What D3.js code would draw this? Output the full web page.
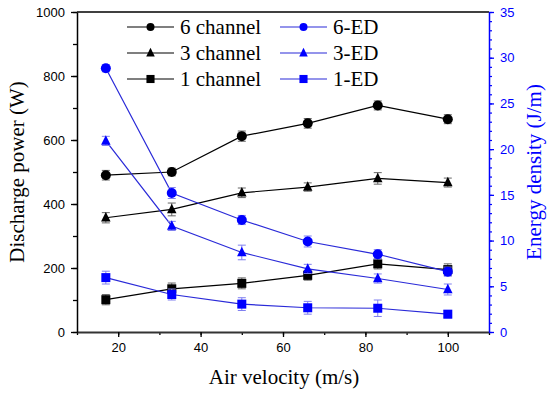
<!DOCTYPE html>
<html>
<head>
<meta charset="utf-8">
<script src="https://cdn.jsdelivr.net/npm/d3@7"></script>
<style>
  body { margin: 0; background: #fff; }
  svg { display: block; }
  .tick text { font-family: "Liberation Sans", Arial, sans-serif; font-size: 13px; }
  .serif { font-family: "Liberation Serif", "Times New Roman", Times, serif; font-size: 21px; }
</style>
</head>
<body>
<svg id="chart" width="550" height="394"></svg>
<script>
// air velocity (m/s)
var velocity = [17, 33, 50, 66, 83, 100];

// discharge power (W), left axis
var power6 = [490, 500, 612, 652, 708, 665];
var power3 = [357, 383, 435, 453, 480, 467];
var power1 = [101, 135, 152, 177, 213, 195];
var power6Err = [15, 12, 16, 15, 14, 14];
var power3Err = [16, 20, 15, 13, 18, 14];
var power1Err = [16, 18, 17, 15, 16, 18];

// energy density (J/m), right axis
var ed6 = [28.85, 15.2, 12.25, 9.9, 8.5, 6.6];
var ed3 = [20.9, 11.6, 8.7, 6.9, 5.85, 4.65];
var ed1 = [5.95, 4.1, 3.05, 2.65, 2.6, 1.95];
var ed6Err = [0.4, 0.6, 0.5, 0.6, 0.5, 0.5];
var ed3Err = [0.5, 0.5, 0.8, 0.5, 0.5, 0.6];
var ed1Err = [0.7, 0.6, 0.7, 0.7, 0.9, 0.4];

var xTicks = [20, 40, 60, 80, 100];
var leftTicks = [0, 200, 400, 600, 800, 1000];
var rightTicks = [0, 5, 10, 15, 20, 25, 30, 35];

var BLUE = '#0000ff';
var BLUE_LINE = '#2a2ad8';
var BLUE_ERR = '#8080f0';
var BLACK_ERR = '#666';

var margin = { left: 77, right: 61, top: 12, bottom: 62 };
var W = 550, H = 394;

var svg = d3.select('#chart');

var x = d3.scaleLinear().domain([10, 110]).range([margin.left, W - margin.right]);
var yL = d3.scaleLinear().domain([0, 1000]).range([H - margin.bottom, margin.top]);
var yR = d3.scaleLinear().domain([0, 35]).range([H - margin.bottom, margin.top]);

var bottom = H - margin.bottom;
var fmt = d3.format('d');

// minor ticks first, then major axes on top
svg.append('g')
    .attr('transform', 'translate(0,' + bottom + ')')
    .call(d3.axisBottom(x).tickValues(d3.range(10, 111, 10)).tickSize(3).tickFormat(''))
    .call(function(g) { g.select('.domain').remove(); })
    .selectAll('line').attr('stroke-width', 1.3);

svg.append('g')
    .attr('transform', 'translate(' + margin.left + ',0)')
    .call(d3.axisLeft(yL).tickValues(d3.range(0, 1001, 100)).tickSize(4).tickFormat(''))
    .call(function(g) { g.select('.domain').remove(); })
    .selectAll('line').attr('stroke-width', 1.3);

svg.append('g')
    .attr('transform', 'translate(' + (W - margin.right) + ',0)')
    .call(d3.axisRight(yR).tickValues(d3.range(0, 36, 1)).tickSize(3).tickFormat(''))
    .call(function(g) { g.select('.domain').remove(); })
    .selectAll('line').attr('stroke', BLUE).attr('stroke-width', 1.2);

// top frame line
svg.append('line')
    .attr('x1', margin.left).attr('x2', W - margin.right)
    .attr('y1', margin.top).attr('y2', margin.top)
    .attr('stroke', '#000').attr('stroke-width', 1.5);

var gx = svg.append('g')
    .attr('transform', 'translate(0,' + bottom + ')')
    .call(d3.axisBottom(x).tickValues(xTicks).tickFormat(fmt).tickSize(5).tickSizeOuter(0).tickPadding(6));
gx.select('.domain').attr('stroke-width', 1.8).attr('stroke', '#333');
gx.selectAll('line').attr('stroke-width', 1.3);

var gl = svg.append('g')
    .attr('transform', 'translate(' + margin.left + ',0)')
    .call(d3.axisLeft(yL).tickValues(leftTicks).tickFormat(fmt).tickSize(6).tickSizeOuter(0).tickPadding(6));
gl.select('.domain').attr('stroke-width', 1.5);
gl.selectAll('line').attr('stroke-width', 1.3);

var gr = svg.append('g')
    .attr('transform', 'translate(' + (W - margin.right) + ',0)')
    .call(d3.axisRight(yR).tickValues(rightTicks).tickFormat(fmt).tickSize(5).tickSizeOuter(0).tickPadding(6));
gr.select('.domain').attr('stroke', BLUE).attr('stroke-width', 1.5);
gr.selectAll('line').attr('stroke', BLUE).attr('stroke-width', 1.3);
gr.selectAll('text').attr('fill', BLUE);

// axis titles
svg.append('text')
    .attr('class', 'serif')
    .attr('transform', 'translate(' + 24 + ',' + ((margin.top + bottom) / 2) + ') rotate(-90)')
    .attr('text-anchor', 'middle')
    .text('Discharge power (W)');

svg.append('text')
    .attr('class', 'serif')
    .attr('x', (margin.left + W - margin.right) / 2 + 1)
    .attr('y', 384)
    .attr('text-anchor', 'middle')
    .text('Air velocity (m/s)');

svg.append('text')
    .attr('class', 'serif')
    .attr('transform', 'translate(' + 541 + ',' + ((margin.top + bottom) / 2) + ') rotate(-90)')
    .attr('text-anchor', 'middle')
    .attr('fill', BLUE)
    .text('Energy density (J/m)');

function drawMarker(g, shape, cx, cy, color, size) {
    if (shape === 'circle') {
        g.append('circle').attr('cx', cx).attr('cy', cy).attr('r', size / 2).attr('fill', color);
    } else if (shape === 'square') {
        var s = size * 0.9;
        g.append('rect').attr('x', cx - s / 2).attr('y', cy - s / 2)
            .attr('width', s).attr('height', s).attr('fill', color);
    } else {
        var h = size * 0.95;
        var pts = [[cx, cy - h * 0.6], [cx + h / 2, cy + h * 0.4], [cx - h / 2, cy + h * 0.4]];
        g.append('path').attr('d', 'M' + pts.join('L') + 'Z').attr('fill', color);
    }
}

function drawSeries(values, errors, yScale, shape, lineColor, markerColor, errColor) {
    var g = svg.append('g');
    var line = d3.line()
        .x(function(d, i) { return x(velocity[i]); })
        .y(function(d) { return yScale(d); });

    g.append('path')
        .attr('d', line(values))
        .attr('fill', 'none')
        .attr('stroke', lineColor)
        .attr('stroke-width', 1.2);

    values.forEach(function(v, i) {
        var cx = x(velocity[i]);
        var y1 = yScale(v + errors[i]);
        var y2 = yScale(v - errors[i]);
        g.append('line').attr('x1', cx).attr('x2', cx).attr('y1', y1).attr('y2', y2)
            .attr('stroke', errColor).attr('stroke-width', 1);
        [y1, y2].forEach(function(yy) {
            g.append('line').attr('x1', cx - 4).attr('x2', cx + 4).attr('y1', yy).attr('y2', yy)
                .attr('stroke', errColor).attr('stroke-width', 1);
        });
        drawMarker(g, shape, cx, yScale(v), markerColor, 10);
    });
}

drawSeries(power6, power6Err, yL, 'circle', '#000', '#000', BLACK_ERR);
drawSeries(power3, power3Err, yL, 'triangle', '#000', '#000', BLACK_ERR);
drawSeries(power1, power1Err, yL, 'square', '#000', '#000', BLACK_ERR);
drawSeries(ed6, ed6Err, yR, 'circle', BLUE_LINE, BLUE, BLUE_ERR);
drawSeries(ed3, ed3Err, yR, 'triangle', BLUE_LINE, BLUE, BLUE_ERR);
drawSeries(ed1, ed1Err, yR, 'square', BLUE_LINE, BLUE, BLUE_ERR);

// legend
var legendRows = [
    { label: '6 channel', shape: 'circle', col: 0, row: 0 },
    { label: '3 channel', shape: 'triangle', col: 0, row: 1 },
    { label: '1 channel', shape: 'square', col: 0, row: 2 },
    { label: '6-ED', shape: 'circle', col: 1, row: 0 },
    { label: '3-ED', shape: 'triangle', col: 1, row: 1 },
    { label: '1-ED', shape: 'square', col: 1, row: 2 }
];
var legendX = [127, 280];
var legend = svg.append('g');
legendRows.forEach(function(d) {
    var lx = legendX[d.col];
    var ly = 27 + d.row * 26;
    var lc = d.col === 0 ? '#000' : BLUE_LINE;
    var mc = d.col === 0 ? '#000' : BLUE;
    legend.append('line').attr('x1', lx).attr('x2', lx + 47).attr('y1', ly).attr('y2', ly)
        .attr('stroke', lc).attr('stroke-width', 1.2);
    drawMarker(legend, d.shape, lx + 23.5, ly, mc, d.shape === 'circle' ? 8 : 9);
    legend.append('text')
        .attr('class', 'serif')
        .attr('x', lx + 53).attr('y', ly + 7)
        .text(d.label);
});
</script>
</body>
</html>
